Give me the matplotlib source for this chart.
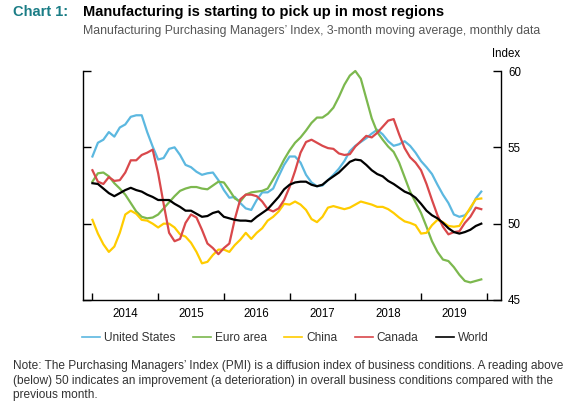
import matplotlib.pyplot as plt
import numpy as np

plt.rcParams['font.family'] = ['Liberation Sans', 'DejaVu Sans']

# monthly data, Jan 2014 - Dec 2019
years = ['2014', '2015', '2016', '2017', '2018', '2019']

united_states = [54.4, 55.3, 55.5, 56.0, 55.7, 56.3, 56.5, 57.0, 57.1, 57.1, 56.0, 55.05,
                 54.2, 54.3, 54.9, 55.0, 54.5, 53.85, 53.7, 53.4, 53.2, 53.3, 53.35, 52.85,
                 52.2, 51.7, 51.75, 51.35, 51.0, 50.9, 51.55, 52.05, 52.05, 52.3, 53.1, 53.85,
                 54.4, 54.4, 54.0, 53.2, 52.7, 52.45, 52.5, 52.85, 53.2, 53.6, 54.1, 54.75,
                 55.1, 55.35, 55.6, 55.9, 56.15, 55.85, 55.4, 55.1, 55.2, 55.4, 55.1, 54.65,
                 54.1, 53.7, 53.25, 52.55, 51.9, 51.35, 50.6, 50.45, 50.55, 50.95, 51.65, 52.1]

euro_area = [52.75, 53.3, 53.35, 53.1, 52.65, 52.3, 51.9, 51.35, 50.8, 50.45, 50.35, 50.4,
             50.6, 51.0, 51.4, 51.8, 52.15, 52.3, 52.4, 52.4, 52.3, 52.25, 52.5, 52.75,
             52.7, 52.2, 51.65, 51.45, 51.9, 52.05, 52.1, 52.15, 52.3, 52.9, 53.5, 54.2,
             54.8, 55.3, 55.65, 56.1, 56.6, 56.95, 56.95, 57.2, 57.6, 58.3, 59.1, 59.7,
             60.0, 59.5, 58.2, 56.9, 56.0, 55.5, 55.05, 54.7, 54.0, 53.05, 52.1, 51.4,
             50.7, 49.8, 48.85, 48.15, 47.65, 47.55, 47.15, 46.65, 46.25, 46.15, 46.25, 46.35]

china = [50.25, 49.35, 48.65, 48.15, 48.5, 49.4, 50.6, 50.85, 50.65, 50.25, 50.2, 50.0,
         49.75, 50.0, 50.0, 49.75, 49.3, 49.15, 48.75, 48.15, 47.4, 47.5, 47.95, 48.3,
         48.3, 48.15, 48.6, 48.95, 49.4, 49.0, 49.4, 49.7, 50.2, 50.45, 50.8, 51.3,
         51.25, 51.45, 51.25, 50.9, 50.3, 50.1, 50.45, 51.05, 51.15, 51.05, 50.95, 51.05,
         51.25, 51.45, 51.35, 51.25, 51.1, 51.1, 50.95, 50.7, 50.4, 50.15, 50.05, 49.9,
         49.35, 49.4, 49.9, 50.25, 50.1, 49.85, 49.8, 49.85, 50.45, 51.05, 51.6, 51.65]

canada = [53.5, 52.75, 52.6, 53.05, 52.8, 52.85, 53.35, 54.15, 54.15, 54.5, 54.65, 54.85,
          53.3, 51.3, 49.4, 48.85, 49.0, 50.05, 50.6, 50.4, 49.6, 48.7, 48.4, 48.0,
          48.4, 48.7, 50.3, 51.6, 51.9, 51.9, 51.8, 51.45, 50.95, 50.8, 51.0, 51.55,
          52.4, 53.45, 54.65, 55.35, 55.5, 55.3, 55.1, 54.95, 54.9, 54.6, 54.5, 54.55,
          55.05, 55.4, 55.75, 55.65, 55.95, 56.35, 56.75, 56.85, 55.85, 54.95, 54.35, 54.0,
          53.5, 52.6, 51.55, 50.55, 49.8, 49.3, 49.45, 49.5, 50.05, 50.45, 51.05, 50.95]

world = [52.65, 52.6, 52.3, 52.0, 51.8, 52.0, 52.2, 52.35, 52.2, 52.1, 51.9, 51.75,
         51.55, 51.55, 51.55, 51.3, 51.1, 50.85, 50.85, 50.65, 50.45, 50.5, 50.7, 50.8,
         50.45, 50.35, 50.25, 50.2, 50.2, 50.15, 50.45, 50.7, 50.95, 51.35, 51.75, 52.25,
         52.55, 52.7, 52.75, 52.75, 52.55, 52.45, 52.55, 52.85, 53.1, 53.35, 53.7, 54.05,
         54.2, 54.15, 53.85, 53.5, 53.25, 53.1, 52.8, 52.6, 52.35, 52.1, 51.95, 51.7,
         51.3, 50.85, 50.55, 50.35, 50.05, 49.7, 49.45, 49.35, 49.45, 49.6, 49.85, 50.0]

series = [
    ('United States', united_states, '#5cb8e0'),
    ('Euro area', euro_area, '#7cb84e'),
    ('China', china, '#ffcc00'),
    ('Canada', canada, '#d9484b'),
    ('World', world, '#000000'),
]

W, H = 583, 405
fig = plt.figure(figsize=(W / 100, H / 100), dpi=100)
ax = fig.add_axes([83 / W, 1 - 300 / H, (501 - 83) / W, (300 - 71) / H])

months = np.arange(len(world))
for name, vals, col in series:
    ax.plot(months, vals, color=col, lw=1.6, label=name, clip_on=False)

ax.set_xlim(-1.72, 74.6)
ax.set_ylim(45, 60)
ax.spines['top'].set_visible(False)
for s in ['left', 'right', 'bottom']:
    ax.spines[s].set_linewidth(1.0)

# year boundaries as ticks, year names in the middle
ax.set_xticks(np.arange(0, 73, 12))
ax.set_xticklabels([])
ax.set_xticks(np.arange(6, 72, 12), minor=True)
ax.set_xticklabels(years, minor=True)
ax.tick_params(axis='x', which='major', direction='in', length=5, width=1.0)
ax.tick_params(axis='x', which='minor', length=0, pad=6, labelsize=8.3)

ax.set_yticks([45, 50, 55, 60])
ax.tick_params(axis='y', which='major', direction='in', length=6, width=1.0,
               left=True, right=True, labelleft=False, labelright=True,
               labelsize=8.3, pad=5)

fig.text(506 / W, 1 - 54 / H, 'Index', ha='center', va='center', fontsize=8.3)

fig.text(13 / W, 1 - 12 / H, 'Chart 1:', color='#1b7d86', fontsize=10.5,
         fontweight='bold', va='center')
fig.text(83 / W, 1 - 12 / H, 'Manufacturing is starting to pick up in most regions',
         fontsize=10.5, fontweight='bold', va='center')
fig.text(83 / W, 1 - 31 / H,
         'Manufacturing Purchasing Managers\u2019 Index, 3-month moving average, monthly data',
         fontsize=8.8, color='#555555', va='center')

handles, labels = ax.get_legend_handles_labels()
leg = fig.legend(handles, labels, loc='center left', bbox_to_anchor=(82 / W, 1 - 338 / H),
                 ncol=5, frameon=False, fontsize=8.6, handlelength=1.5,
                 handletextpad=0.35, columnspacing=1.45, borderpad=0, borderaxespad=0)
for l in leg.get_lines():
    l.set_linewidth(1.2)
for t in leg.get_texts():
    t.set_color('#333333')

note = ('Note: The Purchasing Managers\u2019 Index (PMI) is a diffusion index of business conditions. A reading above\n'
        '(below) 50 indicates an improvement (a deterioration) in overall business conditions compared with the\n'
        'previous month.')
fig.text(13 / W, 1 - 360 / H, note, fontsize=8.55, color='#333333', va='top',
         linespacing=1.3)

fig.savefig('out.png', dpi=100)
